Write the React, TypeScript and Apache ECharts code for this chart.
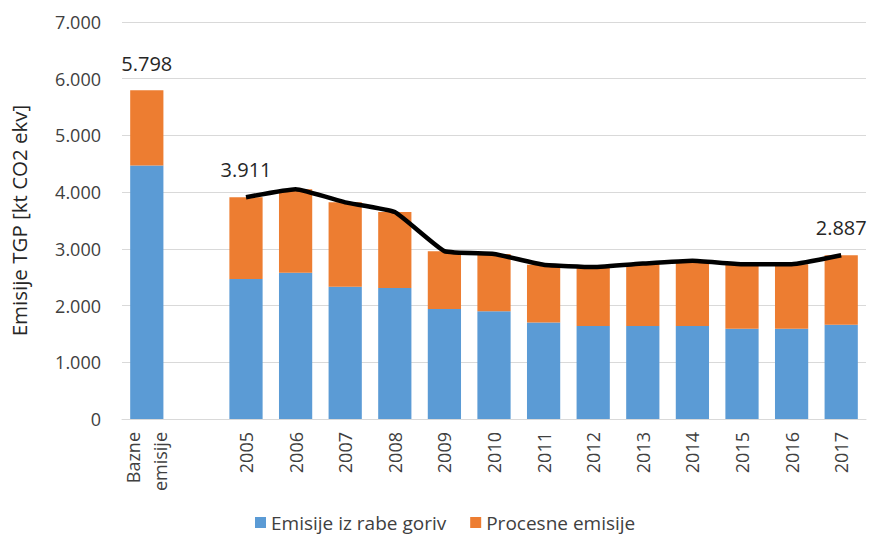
import React, { useEffect, useRef } from "react";
import * as echarts from "echarts";

const categories = ["Bazne\nemisije", "", "2005", "2006", "2007", "2008", "2009", "2010", "2011", "2012", "2013", "2014", "2015", "2016", "2017"];
const fuelEmissions = [4470, null, 2470, 2580, 2330, 2310, 1940, 1900, 1700, 1640, 1640, 1640, 1590, 1590, 1660];
const processEmissions = [1328, null, 1441, 1470, 1490, 1340, 1020, 1010, 1020, 1040, 1100, 1150, 1140, 1140, 1227];
const totalEmissions = [5798, null, 3911, 4050, 3820, 3650, 2960, 2910, 2720, 2680, 2740, 2790, 2730, 2730, 2887];
const labelledLineIndices = [2, 14];
const yTicks = { min: 0, max: 7000, interval: 1000 };

const fmt = (v: number) => Math.round(v).toString().replace(/\B(?=(\d{3})+(?!\d))/g, ".");
const FONT = "'Open Sans', sans-serif";
const TXT = "#404040";

export default function App() {
  const ref = useRef<HTMLDivElement>(null);
  useEffect(() => {
    if (!ref.current) return;
    const chart = echarts.init(ref.current, undefined, { renderer: "svg" });
    const valueLabel = {
      show: true,
      position: "top" as const,
      distance: 17,
      fontSize: 20,
      color: "#262626",
      fontFamily: FONT,
    };
    chart.setOption({
      animation: false,
      textStyle: { fontFamily: FONT },
      grid: { left: 122, right: 3, top: 22, bottom: 122, containLabel: false },
      legend: {
        top: 511,
        left: 250,
        itemWidth: 11,
        itemHeight: 11,
        itemGap: 24,
        padding: [2, 5, 2, 5],
        icon: "rect",
        textStyle: { fontSize: 19, color: TXT, fontFamily: FONT },
        data: ["Emisije iz rabe goriv", "Procesne emisije"],
      },
      xAxis: {
        type: "category",
        data: categories,
        axisTick: { show: false },
        axisLine: { lineStyle: { color: "#d9d9d9", width: 1 } },
        axisLabel: {
          rotate: 90,
          interval: 0,
          fontSize: 18,
          color: TXT,
          margin: 13,
          lineHeight: 27,
          fontFamily: FONT,
        },
      },
      yAxis: {
        type: "value",
        min: yTicks.min,
        max: yTicks.max,
        interval: yTicks.interval,
        name: "Emisije TGP [kt CO2 ekv]",
        nameLocation: "middle",
        nameGap: 93,
        nameRotate: 90,
        nameTextStyle: { fontSize: 20.5, color: "#262626", fontFamily: FONT },
        axisLabel: { formatter: (v: number) => fmt(v), fontSize: 18, color: TXT, margin: 21, fontFamily: FONT },
        splitLine: { lineStyle: { color: "#d9d9d9", width: 1 } },
        axisLine: { show: false },
        axisTick: { show: false },
      },
      series: [
        {
          name: "Emisije iz rabe goriv",
          type: "bar",
          stack: "total",
          barCategoryGap: "33%",
          itemStyle: { color: "#5B9BD5" },
          data: fuelEmissions,
        },
        {
          name: "Procesne emisije",
          type: "bar",
          stack: "total",
          barCategoryGap: "33%",
          itemStyle: { color: "#ED7D31" },
          data: processEmissions.map((v, i) =>
            i === 0
              ? { value: v, label: { ...valueLabel, formatter: () => fmt(totalEmissions[0] as number) } }
              : v
          ),
        },
        {
          name: "Ukupno",
          type: "line",
          smooth: 0.12,
          symbol: "circle",
          symbolSize: 2,
          showSymbol: true,
          lineStyle: { color: "#000000", width: 4.5 },
          itemStyle: { color: "rgba(0,0,0,0)" },
          z: 5,
          data: totalEmissions.map((v, i) =>
            i < 2
              ? null
              : labelledLineIndices.includes(i)
              ? { value: v, label: { ...valueLabel, formatter: () => fmt(v as number) } }
              : v
          ),
        },
      ],
    });
    return () => chart.dispose();
  }, []);
  return <div ref={ref} style={{ width: 869, height: 541, position: "absolute", left: 0, top: 0 }} />;
}
